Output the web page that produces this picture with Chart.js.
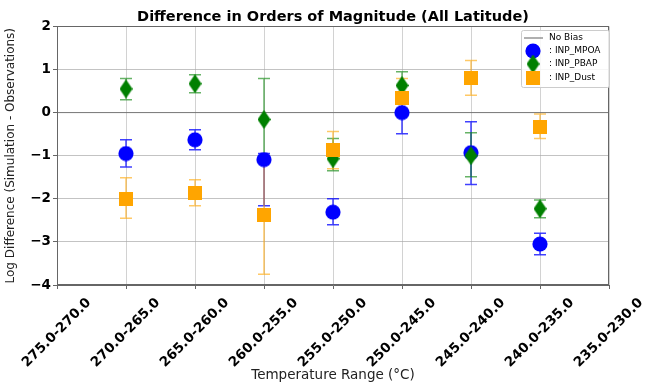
<!DOCTYPE html>
<html>
<head>
<meta charset="utf-8">
<script src="https://cdn.jsdelivr.net/npm/chart.js@4.4.1/dist/chart.umd.min.js"></script>
<style>
html,body{margin:0;padding:0;background:#fff;}
#c{display:block;}
</style>
</head>
<body>
<canvas id="c" width="646" height="385"></canvas>
<script>
// ---- data ----
const categories = ['275.0-270.0','270.0-265.0','265.0-260.0','260.0-255.0','255.0-250.0','250.0-245.0','245.0-240.0','240.0-235.0','235.0-230.0'];
const yTicks = [-4,-3,-2,-1,0,1,2];
const noBias = [0,0,0,0,0,0,0,0,0];

const mpoa   = [null,-0.95,-0.63,-1.09,-2.31, 0.00,-0.93,-3.05,null];
const mpoaLo = [null,-1.26,-0.86,-2.16,-2.60,-0.49,-1.67,-3.30,null];
const mpoaHi = [null,-0.63,-0.40,-0.95,-2.00, 0.20,-0.21,-2.80,null];

const pbap   = [null, 0.55, 0.67,-0.16,-1.07, 0.63,-1.00,-2.23,null];
const pbapLo = [null, 0.30, 0.46,-1.00,-1.35, 0.35,-1.49,-2.44,null];
const pbapHi = [null, 0.79, 0.88, 0.79,-0.60, 0.95,-0.47,-2.03,null];

const dust   = [null,-2.00,-1.87,-2.37,-0.86, 0.33, 0.81,-0.33,null];
const dustLo = [null,-2.45,-2.16,-3.75,-1.30, 0.10, 0.40,-0.60,null];
const dustHi = [null,-1.51,-1.56,-1.15,-0.44, 0.79, 1.21,-0.03,null];

// ---- marker images ----
function mk(w,h,draw){const c=document.createElement('canvas');c.width=w;c.height=h;const g=c.getContext('2d');draw(g);return c;}
const BLUE='#0000ff', GREEN='#008000', ORANGE='#ffa500';
const circleImg = mk(16,16,g=>{g.fillStyle=BLUE;g.beginPath();g.arc(8,8,7.6,0,Math.PI*2);g.fill();});
const diamondImg = mk(13,19,g=>{g.fillStyle=GREEN;g.beginPath();g.moveTo(6.5,0);g.lineTo(13,9.5);g.lineTo(6.5,19);g.lineTo(0,9.5);g.closePath();g.fill();});
const squareImg = mk(14,14,g=>{g.fillStyle=ORANGE;g.fillRect(0,0,14,14);});

const series = [
  {label:'INP_MPOA', data:mpoa, lo:mpoaLo, hi:mpoaHi, color:'rgba(0,0,255,0.75)', img:circleImg},
  {label:'INP_PBAP', data:pbap, lo:pbapLo, hi:pbapHi, color:'rgba(0,128,0,0.6)', img:diamondImg},
  {label:'INP_Dust', data:dust, lo:dustLo, hi:dustHi, color:'rgba(255,165,0,0.6)', img:squareImg}
];

const errorBars = {
  id:'errorBars',
  beforeDatasetsDraw(chart){
    const ctx=chart.ctx, xs=chart.scales.x, ys=chart.scales.y;
    ctx.save();
    ctx.lineWidth=1.5;
    series.forEach(s=>{
      ctx.strokeStyle=s.color;
      s.data.forEach((v,i)=>{
        if(v===null) return;
        const x=xs.getPixelForValue(i);
        const y1=ys.getPixelForValue(s.lo[i]), y2=ys.getPixelForValue(s.hi[i]);
        ctx.beginPath();
        ctx.moveTo(x,y1);ctx.lineTo(x,y2);
        ctx.moveTo(x-6,y1);ctx.lineTo(x+6,y1);
        ctx.moveTo(x-6,y2);ctx.lineTo(x+6,y2);
        ctx.stroke();
      });
    });
    ctx.restore();
  },
  afterDraw(chart){
    const ctx=chart.ctx, a=chart.chartArea;
    ctx.save();
    ctx.strokeStyle='#666';ctx.lineWidth=1;
    ctx.strokeRect(Math.round(a.left)+0.5,Math.round(a.top)+0.5,Math.round(a.right-a.left)-1,Math.round(a.bottom-a.top)-1);
    // legend
    const bx=521, by=30, bw=88, bh=57;
    ctx.fillStyle='rgba(255,255,255,0.85)';
    ctx.strokeStyle='#cccccc';
    ctx.beginPath();
    if(ctx.roundRect) ctx.roundRect(bx+0.5,by+0.5,bw,bh,2); else ctx.rect(bx+0.5,by+0.5,bw,bh);
    ctx.fill();ctx.stroke();
    ctx.font='9px "DejaVu Sans"';ctx.fillStyle='#000';ctx.textBaseline='middle';ctx.textAlign='left';
    ctx.strokeStyle='rgba(80,80,80,0.9)';ctx.lineWidth=1;
    ctx.beginPath();ctx.moveTo(524,38);ctx.lineTo(543,38);ctx.stroke();
    ctx.fillText('No Bias',549,38);
    const rows=[[51,circleImg,': INP_MPOA'],[64,diamondImg,': INP_PBAP'],[78,squareImg,': INP_Dust']];
    rows.forEach(r=>{
      ctx.drawImage(r[1],533-r[1].width/2,r[0]-r[1].height/2);
      ctx.fillText(r[2],549,r[0]);
    });
    ctx.restore();
  }
};

const fontTick={family:'DejaVu Sans',size:13.5,weight:'bold'};
new Chart(document.getElementById('c'),{
  type:'line',
  data:{
    labels:categories,
    datasets:[
      {label:'No Bias',data:noBias,borderColor:'rgba(90,90,90,0.7)',borderWidth:1,pointRadius:0,order:10},
      ...series.map((s,k)=>({label:s.label,data:s.data,showLine:false,pointStyle:s.img,pointRadius:8,pointHoverRadius:8,order:3-k}))
    ]
  },
  options:{
    responsive:false,animation:false,
    layout:{padding:{left:0,right:37,top:0,bottom:0}},
    plugins:{
      legend:{display:false},tooltip:{enabled:false},
      title:{display:true,fullSize:false,text:'Difference in Orders of Magnitude (All Latitude)',color:'#000',
        font:{family:'DejaVu Sans',size:14.5,weight:'bold'},padding:{top:9,bottom:0}}
    },
    scales:{
      x:{
        type:'category',offset:false,
        grid:{offset:false,color:'rgba(180,180,180,0.6)',tickLength:4,tickColor:'#666'},
        border:{color:'#666'},
        ticks:{autoSkip:false,minRotation:45,maxRotation:45,labelOffset:32,padding:6,color:'#000',font:fontTick},
        title:{display:true,text:'Temperature Range (°C)',color:'#222',font:{family:'DejaVu Sans',size:13.5},padding:{top:0,bottom:1}},
        afterFit(s){s.height=100;s.paddingLeft=0;s.paddingRight=0;}
      },
      y:{
        min:-4,max:2,
        afterBuildTicks(s){s.ticks=yTicks.map(v=>({value:v}));},
        grid:{color:'rgba(170,170,170,0.7)',tickLength:4,tickColor:'#666'},
        border:{color:'#666'},
        ticks:{padding:2,color:'#000',font:fontTick,callback:v=>v<0?'\u2212'+Math.abs(v):String(v)},
        title:{display:true,text:'Log Difference (Simulation - Observations)',color:'#222',font:{family:'DejaVu Sans',size:12},padding:{top:4,bottom:0}},
        afterFit(s){s.width=57;}
      }
    }
  },
  plugins:[errorBars]
});
</script>
</body>
</html>
